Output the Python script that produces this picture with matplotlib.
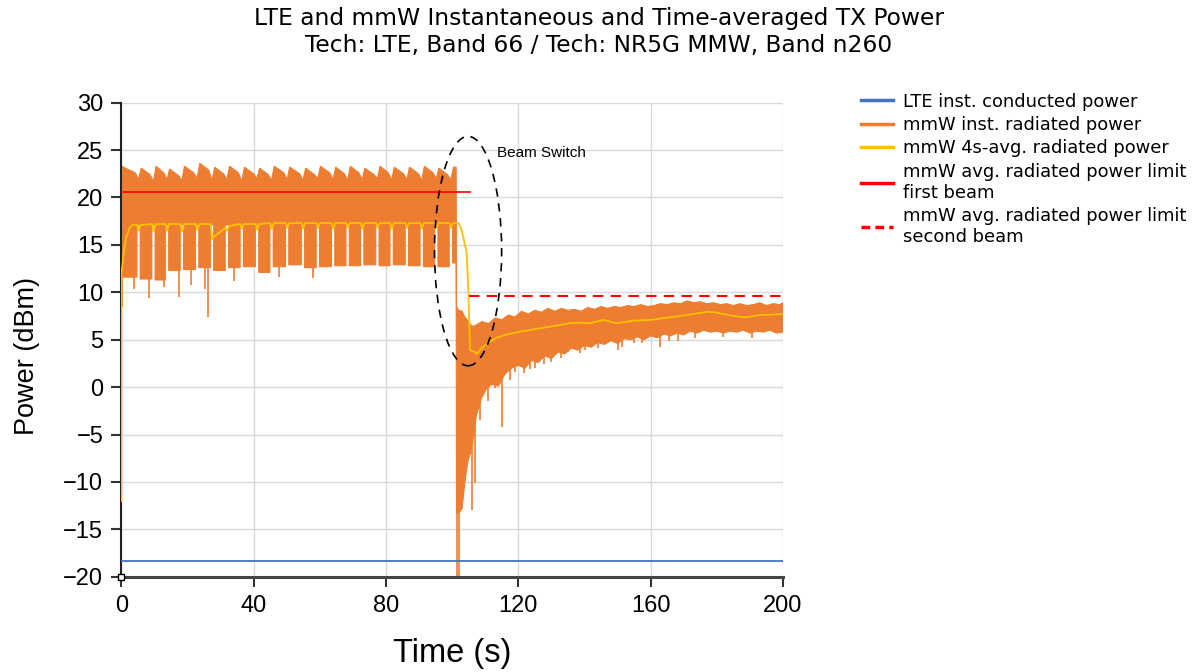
import numpy as np
import matplotlib.pyplot as plt
from matplotlib.patches import Ellipse
from matplotlib.lines import Line2D

# --- mmW instantaneous radiated power, first beam (0 - 101 s) ---
# centres of the short gaps between the ~4.5 s bursts (s)
gap_t = [5.2, 9.7, 13.8, 18.3, 22.9, 27.4, 31.9, 36.4, 41.0, 45.4, 50.1,
         54.9, 59.4, 64.0, 68.4, 72.8, 77.4, 81.7, 86.3, 90.8, 95.2, 99.6]
gap_floor = 17.1   # lower edge of the band inside a gap (dBm)
gap_ceil = [21.9, 21.7, 21.9, 21.8, 22.0, 21.8, 21.9, 21.7, 22.0, 21.8, 21.9,
            21.8, 22.0, 21.9, 21.8, 21.9, 22.0, 21.8, 21.9, 21.8, 22.0, 21.9]
# per burst: lowest and highest instantaneous value (dBm)
bar_floor = [11.6, 11.4, 11.3, 12.3, 12.4, 12.6, 12.3, 12.6, 12.7, 12.1, 12.7, 12.9,
             12.6, 12.7, 12.8, 12.8, 12.9, 12.8, 12.9, 12.8, 12.7, 12.7, 13.1]
bar_peak = [23.3, 23.1, 23.3, 23.0, 23.3, 23.6, 23.2, 23.3, 23.2, 23.1, 23.3, 23.2,
            23.1, 23.3, 23.2, 23.3, 23.1, 23.3, 23.2, 23.2, 23.3, 23.1, 23.2]
burst_end = 101.2

# --- beam switch (101 - 106 s) ---
trans_t = [101.3, 102.0, 103.0, 103.8, 104.8, 105.5, 106.3]
trans_hi = [8.5, 8.1, 8.0, 7.4, 7.0, 6.6, 6.4]
trans_lo = [-13.3, -13.3, -12.8, -10.1, -7.7, -7.0, -5.5]

# --- second beam (106 - 200 s) ---
tail_hi_t = [107, 109, 111, 113, 115, 117, 119, 121, 123, 125, 127, 129, 131, 133,
             135, 137, 139, 141, 143, 145, 147, 149, 151, 153, 155, 157, 159, 161,
             163, 165, 167, 169, 171, 173, 175, 177, 179, 181, 183, 185, 187, 189,
             191, 193, 195, 197, 199, 200]
tail_hi = [6.5, 6.9, 6.7, 7.3, 7.1, 7.6, 7.4, 8.0, 7.7, 8.1, 7.9, 8.3, 8.0, 8.3,
           8.1, 8.2, 8.0, 8.4, 8.2, 8.5, 8.3, 8.5, 8.4, 8.6, 8.5, 8.7, 8.5, 8.6,
           8.8, 8.7, 8.9, 8.8, 9.1, 8.9, 9.0, 8.8, 8.9, 8.7, 8.8, 8.6, 8.8, 8.6,
           8.7, 8.9, 8.6, 8.8, 8.7, 8.9]
tail_lo_t = [107.3, 108.8, 110.3, 112, 114, 116, 118, 120, 122, 124, 126, 128,
             130, 132, 134, 136, 138, 140, 142, 144, 146, 148, 150, 152, 154, 156,
             158, 160, 162, 164, 166, 168, 170, 172, 174, 176, 178, 180, 182, 184,
             186, 188, 190, 192, 194, 196, 198, 200]
tail_lo = [-3.0, -1.2, -0.2, 0.3, 0.1, 1.4, 2.0, 2.3, 2.0, 2.8, 2.6, 3.3,
           3.0, 3.7, 3.5, 4.1, 3.9, 4.4, 4.2, 4.7, 4.5, 4.9, 4.6, 5.1, 5.0, 5.3,
           5.0, 5.4, 5.2, 5.6, 5.4, 5.7, 5.5, 5.9, 5.7, 6.0, 5.8, 5.9, 5.7, 5.9,
           5.8, 6.0, 5.7, 5.9, 5.8, 6.0, 5.7, 5.8]

# single deep samples of the instantaneous power
spike_t = [0.2, 3.7, 8.4, 13.0, 17.3, 20.9, 25.3, 26.3, 34.0, 47.5, 58.0,
           101.5, 102.2, 106.1, 106.9, 108.3, 110.8, 112.9, 115.1, 117.4, 119.0,
           121.7, 123.5, 125.0, 127.8, 130.0, 133.0, 135.1, 138.5, 140.1, 144.0,
           150.2, 151.2, 155.0, 157.3, 162.8, 165.5, 168.4, 173.5, 182.0, 190.5]
spike_v = [8.4, 10.4, 9.4, 10.6, 9.5, 10.8, 10.3, 7.4, 11.2, 11.6, 11.5,
           -20.0, -20.0, -13.0, -10.1, -3.5, -1.5, -0.1, -4.2, 0.8, 1.6,
           1.5, 1.9, 2.0, 2.4, 2.6, 3.1, 3.7, 3.6, 3.9, 4.1,
           3.9, 4.2, 4.6, 4.7, 4.2, 4.9, 4.9, 5.2, 5.3, 5.2]

# --- mmW 4 s averaged radiated power ---
avg_rise_t = [0, 0, 0.3, 0.8, 1.5, 2.5, 3.4]
avg_rise_v = [-12.0, 12.0, 12.8, 14.5, 15.8, 16.8, 17.1]
avg_dip = [16.5, 16.4, 16.5, 16.4, 16.6, 15.6, 16.5, 16.7, 16.6, 16.7, 16.8,
           16.7, 16.8, 16.7, 16.8, 16.7, 16.8, 16.7, 16.8, 16.7, 16.8, 16.8]
avg_plat_start = [17.1, 17.1, 17.2, 17.2, 17.2, 17.2, 15.9, 17.0, 17.2, 17.2, 17.3, 17.3,
                  17.3, 17.3, 17.3, 17.3, 17.3, 17.3, 17.3, 17.3, 17.3, 17.3, 17.3]
avg_plat_end = [17.1, 17.2, 17.2, 17.2, 17.2, 17.2, 16.8, 17.2, 17.2, 17.3, 17.3, 17.3,
                17.3, 17.3, 17.3, 17.3, 17.3, 17.3, 17.3, 17.3, 17.3, 17.3, 17.3]
avg_tail_t = [101.9, 102.8, 103.5, 104.4, 104.9, 105.4, 106.9, 107.4, 108.9, 111, 113.4,
              116, 120.5, 126.5, 132.6, 135.6, 138.6, 141.6, 145.7, 149.7, 154.7, 159.8,
              165.8, 170.9, 177.4, 180, 185, 189, 193, 200]
avg_tail_v = [17.3, 16.6, 15.6, 14.1, 9.9, 3.9, 3.7, 3.5, 4.1, 4.7, 5.2,
              5.5, 5.85, 6.2, 6.55, 6.75, 6.8, 6.73, 7.08, 6.73, 7.0, 7.08,
              7.36, 7.6, 7.95, 7.85, 7.5, 7.36, 7.6, 7.7]

# --- LTE conducted power and limits ---
lte_t = [0, 200]
lte_v = [-18.3, -18.3]
lim1_t = [0, 105.4]
lim1_v = [20.6, 20.6]
lim2_t = [105.2, 200]
lim2_v = [9.6, 9.6]

C_BLUE = '#4472C4'
C_ORANGE = '#ED7D31'
C_YELLOW = '#FFC000'
C_RED = '#FF0000'

# envelope of the instantaneous power
edges = [0.0] + gap_t + [burst_end]
lo_t, lo_v = [], []
for i in range(len(bar_floor)):
    s = edges[i] + (0.5 if i > 0 else 0)
    e = edges[i + 1] - (0.5 if i < len(gap_t) else 0)
    lo_t += [s, e]
    lo_v += [bar_floor[i], bar_floor[i]]
    if i < len(gap_t):
        lo_t += [e, gap_t[i] + 0.5]
        lo_v += [gap_floor, gap_floor]
hi_t, hi_v = [0.0], [bar_peak[0]]
for i, g in enumerate(gap_t):
    hi_t += [g - 1.0, g, g + 0.8]
    hi_v += [bar_peak[i] - 0.7, gap_ceil[i], bar_peak[i + 1]]
hi_t.append(burst_end)
hi_v.append(bar_peak[-1])
hi_t += trans_t + tail_hi_t
hi_v += trans_hi + tail_hi
lo_t += trans_t + tail_lo_t
lo_v += trans_lo + tail_lo

avg_t, avg_v = list(avg_rise_t), list(avg_rise_v)
for i, g in enumerate(gap_t):
    avg_t += [g - 0.4, g, g + 0.7]
    avg_v += [avg_plat_end[i], avg_dip[i], avg_plat_start[i + 1]]
avg_t += avg_tail_t
avg_v += avg_tail_v

fig = plt.figure(figsize=(11.98, 6.72), dpi=100)
ax = fig.add_axes([0.1013, 0.1418, 0.5523, 0.7054])

ax.fill(hi_t + lo_t[::-1], hi_v + lo_v[::-1], color=C_ORANGE, lw=0.8, zorder=2)
spike_top = np.interp(spike_t, lo_t, lo_v) + 0.5
ax.vlines(spike_t, spike_v, spike_top, color=C_ORANGE, lw=1.2, zorder=2)
ax.plot(avg_t, avg_v, color=C_YELLOW, lw=1.3, zorder=3)
ax.plot(lim1_t, lim1_v, color=C_RED, lw=1.2, zorder=3)
ax.plot(lim2_t, lim2_v, color=C_RED, lw=1.5, ls=(0, (5, 3.5)), zorder=3)
ax.plot(lte_t, lte_v, color=C_BLUE, lw=1.3, zorder=3)

ax.add_patch(Ellipse((104.8, 14.35), 20.3, 24.2, fill=False, ec='black',
                     lw=1.2, ls=(0, (5, 4)), zorder=4))
ax.text(113.5, 24.7, 'Beam Switch', fontsize=11, family='Liberation Sans',
        va='center', ha='left')

ax.set_xlim(0, 200)
ax.set_ylim(-20, 30)
ax.set_xticks(range(0, 201, 40))
ax.set_yticks(range(-20, 31, 5))
ax.grid(True, color='#d9d9d9', lw=1)
ax.set_axisbelow(True)
for s in ['top', 'right']:
    ax.spines[s].set_visible(False)
ax.spines['left'].set_color('#222222')
ax.spines['left'].set_linewidth(1.5)
ax.spines['bottom'].set_color('#444444')
ax.spines['bottom'].set_linewidth(2.2)
ax.tick_params(length=7, width=1.5, color='#333333', labelsize=17, pad=6)
for lab in ax.get_xticklabels() + ax.get_yticklabels():
    lab.set_family('Liberation Sans')
ax.plot(0, -20, marker='s', ms=5, mfc='white', mec='black', clip_on=False, zorder=6)

ax.set_xlabel('Time (s)', fontsize=23.5, family='Liberation Sans', labelpad=15)
ax.set_ylabel('Power (dBm)', fontsize=19.5, family='Liberation Sans')
ax.yaxis.set_label_coords(-0.123, 0.466)

fig.text(0.5, 0.99, 'LTE and mmW Instantaneous and Time-averaged TX Power\n'
         'Tech: LTE, Band 66 / Tech: NR5G MMW, Band n260',
         ha='center', va='top', fontsize=16.8, linespacing=1.22)

handles = [
    Line2D([], [], color=C_BLUE, lw=2.5),
    Line2D([], [], color=C_ORANGE, lw=2.5),
    Line2D([], [], color=C_YELLOW, lw=2.5),
    Line2D([], [], color=C_RED, lw=2.5),
    Line2D([], [], color=C_RED, lw=2.5, ls=(0, (2.5, 1.5))),
]
labels = ['LTE inst. conducted power', 'mmW inst. radiated power',
          'mmW 4s-avg. radiated power',
          'mmW avg. radiated power limit\nfirst beam',
          'mmW avg. radiated power limit\nsecond beam']
fig.legend(handles, labels, loc='upper left', bbox_to_anchor=(0.719, 0.862),
           frameon=False, fontsize=12.9, handlelength=1.75, handletextpad=0.55,
           borderpad=0, borderaxespad=0, labelspacing=0.3)

fig.savefig('out.png', dpi=100)
